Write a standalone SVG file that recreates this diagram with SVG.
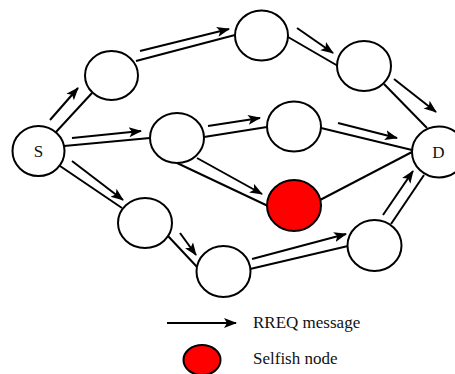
<svg xmlns="http://www.w3.org/2000/svg" width="455" height="374" viewBox="0 0 455 374">
<style>
.n{fill:#fff;stroke:#000;stroke-width:2}
.r{fill:#f00;stroke:#000;stroke-width:2}
.l{stroke:#000;stroke-width:2;fill:none}
.a{stroke:#000;stroke-width:2;fill:none;marker-end:url(#ah)}
.t{font-family:"Liberation Serif","Times New Roman",serif;font-size:17px;fill:#111}
</style>
<defs>
<marker id="ah" markerUnits="userSpaceOnUse" markerWidth="14" markerHeight="12" refX="12" refY="5" orient="auto" viewBox="0 0 14 10">
<path d="M0,0 L13,5 L0,10 L3,5 z" fill="#000"/>
</marker>
</defs>
<rect width="455" height="374" fill="#fff"/>
<g id="connectors">
<line class="l" x1="56" y1="132" x2="92" y2="93"/>
<line class="a" x1="50" y1="120" x2="78" y2="88"/>
<line class="l" x1="136" y1="61" x2="235" y2="35"/>
<line class="a" x1="140" y1="51" x2="229" y2="29"/>
<line class="l" x1="288" y1="37" x2="338" y2="66"/>
<line class="a" x1="297" y1="28" x2="333" y2="53"/>
<line class="l" x1="384" y1="84" x2="427" y2="128"/>
<line class="a" x1="394" y1="79" x2="436" y2="112"/>
<line class="l" x1="64" y1="146" x2="150" y2="138"/>
<line class="a" x1="72" y1="138" x2="141" y2="131"/>
<line class="l" x1="204" y1="137" x2="267" y2="127"/>
<line class="a" x1="208" y1="126" x2="260" y2="118"/>
<line class="l" x1="321" y1="128" x2="412" y2="150"/>
<line class="a" x1="338" y1="123" x2="397" y2="138"/>
<line class="l" x1="177" y1="163" x2="268" y2="206"/>
<line class="a" x1="197" y1="158" x2="262" y2="194"/>
<line class="l" x1="320" y1="200" x2="412" y2="152"/>
<line class="l" x1="60" y1="166" x2="122" y2="208"/>
<line class="a" x1="72" y1="161" x2="123" y2="200"/>
<line class="l" x1="168" y1="236" x2="198" y2="268"/>
<line class="a" x1="180" y1="233" x2="196" y2="255"/>
<line class="l" x1="250" y1="269" x2="348" y2="246"/>
<line class="a" x1="252" y1="259" x2="346" y2="234"/>
<line class="l" x1="391" y1="224" x2="424" y2="175"/>
<line class="a" x1="383" y1="215" x2="413" y2="171"/>
</g>
<g id="node-S"><ellipse class="n" cx="38.5" cy="151" rx="26" ry="25"/><text class="t" x="38.5" y="157" text-anchor="middle">S</text></g>
<g id="node-A"><ellipse class="n" cx="111.5" cy="75.5" rx="26.5" ry="24.5"/></g>
<g id="node-B"><ellipse class="n" cx="177" cy="138" rx="27" ry="25"/></g>
<g id="node-C"><ellipse class="n" cx="261.5" cy="35.5" rx="26.5" ry="25"/></g>
<g id="node-E"><ellipse class="n" cx="364" cy="66" rx="27" ry="25"/></g>
<g id="node-F"><ellipse class="n" cx="294" cy="126.5" rx="27" ry="25"/></g>
<g id="node-D"><ellipse class="n" cx="439" cy="152" rx="27" ry="25.5"/><text class="t" x="438.5" y="158" text-anchor="middle">D</text></g>
<g id="node-selfish"><ellipse class="r" cx="294" cy="205.5" rx="27" ry="25.5"/></g>
<g id="node-G"><ellipse class="n" cx="145" cy="223" rx="27" ry="25"/></g>
<g id="node-H"><ellipse class="n" cx="223.5" cy="271.5" rx="27" ry="25.5"/></g>
<g id="node-I"><ellipse class="n" cx="374.5" cy="245.5" rx="27" ry="25.5"/></g>
<g id="legend">
<line class="a" x1="167" y1="323" x2="236" y2="323"/>
<text class="t" x="253" y="328">RREQ message</text>
<ellipse class="r" cx="202" cy="360" rx="18.5" ry="15"/>
<text class="t" x="253" y="364">Selfish node</text>
</g>
</svg>
